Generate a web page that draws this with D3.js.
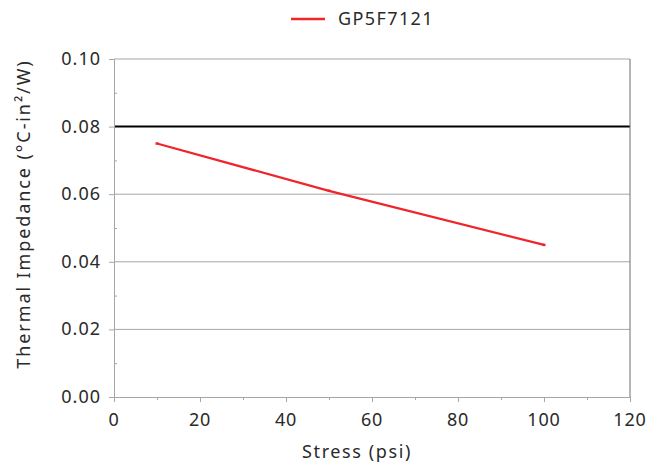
<!DOCTYPE html>
<html lang="en">
<head>
<meta charset="utf-8">
<title>Thermal impedance</title>
<script src="https://d3js.org/d3.v7.min.js"></script>
<style>
  body { margin: 0; background: #fff; }
  text { font-family: "Noto Sans", "DejaVu Sans", sans-serif; fill: #2a2a2a; }
</style>
</head>
<body>
<svg width="656" height="464"></svg>
<script>
// data
var stress = [10, 50, 100];
var impedance = [0.075, 0.061, 0.045];
var seriesName = "GP5F7121";
var xTicks = [0, 20, 40, 60, 80, 100, 120];
var yTicks = [0, 0.02, 0.04, 0.06, 0.08, 0.10];

var svg = d3.select("svg");
var plotL = 114, plotR = 630, plotT = 59, plotB = 397;

var x = d3.scaleLinear().domain([0, 120]).range([plotL, plotR]);
var y = d3.scaleLinear().domain([0, 0.10]).range([plotB, plotT]);

// gridlines
svg.append("g").selectAll("line")
  .data(yTicks.filter(d => d > 0))
  .enter().append("line")
  .attr("x1", plotL).attr("x2", plotR)
  .attr("y1", d => y(d)).attr("y2", d => y(d))
  .attr("stroke", d => d === 0.08 ? "#000" : "#a6a6a6")
  .attr("stroke-width", d => d === 0.08 ? 2 : 1);

// right border
svg.append("line")
  .attr("x1", plotR).attr("x2", plotR).attr("y1", plotT).attr("y2", plotB)
  .attr("stroke", "#6e6e6e").attr("stroke-width", 1);

// x axis
var xAxis = svg.append("g").attr("transform", "translate(0," + plotB + ")");
xAxis.call(d3.axisBottom(x).tickValues(d3.range(0, 121, 10)).tickSize(4).tickFormat(""));
xAxis.select(".domain").attr("stroke", "#a6a6a6");
xAxis.selectAll(".tick line").attr("stroke", "#a6a6a6")
  .attr("y2", d => d % 20 === 0 ? 5 : 3);
xAxis.selectAll(".lbl").data(xTicks).enter().append("text")
  .attr("x", d => x(d)).attr("y", 29)
  .attr("text-anchor", "middle").attr("font-size", 18)
  .attr("letter-spacing", 0.8).text(d => d);

// y axis
var yAxis = svg.append("g").attr("transform", "translate(" + plotL + ",0)");
yAxis.call(d3.axisLeft(y).tickValues(d3.range(0, 11).map(d => d / 100)).tickSize(4).tickFormat(""));
yAxis.select(".domain").attr("stroke", "#a6a6a6");
yAxis.selectAll(".tick line").attr("stroke", "#a6a6a6")
  .attr("x2", (d, i) => i % 2 === 0 ? -5 : 3);
yAxis.selectAll(".lbl").data(yTicks).enter().append("text")
  .attr("x", -13).attr("y", d => y(d) + 6)
  .attr("text-anchor", "end").attr("font-size", 18)
  .attr("letter-spacing", 1).text(d => d.toFixed(2));

// series line
var pts = stress.map((s, i) => [s, impedance[i]]);
svg.append("path")
  .datum(pts)
  .attr("d", d3.line().x(d => x(d[0])).y(d => y(d[1])))
  .attr("fill", "none").attr("stroke", "#f0242b").attr("stroke-width", 2.2);
svg.append("g").selectAll("line").data(pts).enter().append("line")
  .attr("x1", d => x(d[0]) - 1.5).attr("x2", d => x(d[0]) + 1.5)
  .attr("y1", d => y(d[1])).attr("y2", d => y(d[1]))
  .attr("stroke", "#f0242b").attr("stroke-width", 2.5);

// legend
svg.append("line").attr("x1", 291).attr("x2", 325).attr("y1", 19).attr("y2", 19)
  .attr("stroke", "#f0242b").attr("stroke-width", 2.5);
svg.append("text").attr("x", 338).attr("y", 25).attr("font-size", 18)
  .attr("letter-spacing", 1.4).text(seriesName);

// axis titles
svg.append("text").attr("x", 357).attr("y", 458).attr("text-anchor", "middle")
  .attr("font-size", 18).attr("letter-spacing", 1.6).text("Stress (psi)");
svg.append("text").attr("transform", "translate(30,214) rotate(-90)")
  .attr("text-anchor", "middle").attr("font-size", 18)
  .attr("letter-spacing", 1.9)
  .text("Thermal Impedance (°C-in²/W)");
</script>
</body>
</html>
